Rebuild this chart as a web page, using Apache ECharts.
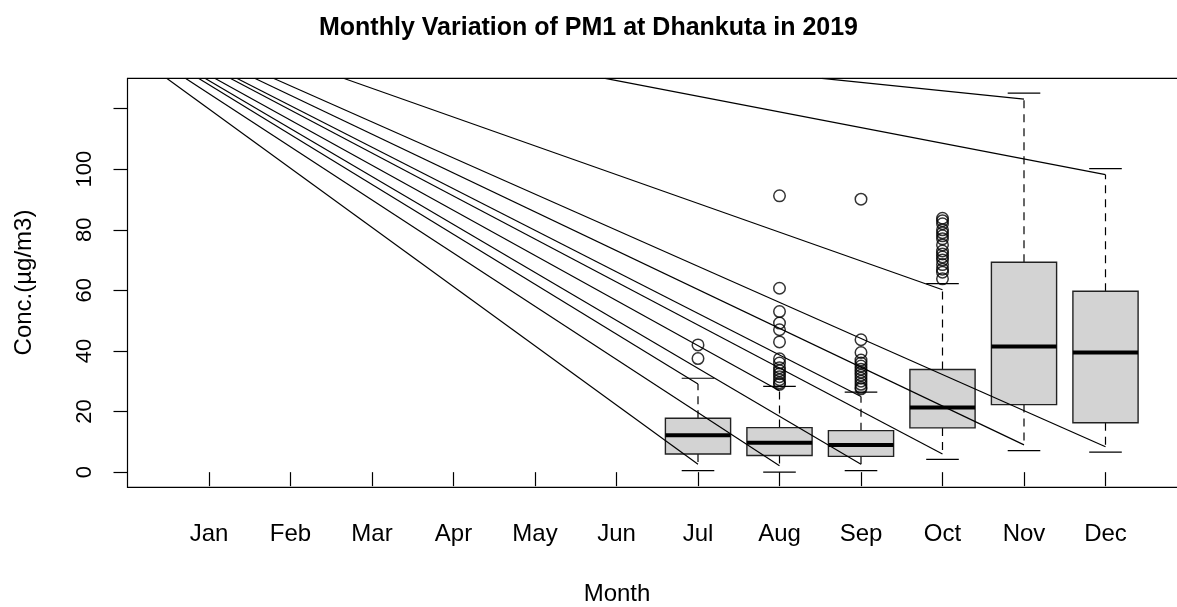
<!DOCTYPE html>
<html lang="en">
<head>
    <meta charset="UTF-8">
    <title>Monthly Variation of PM1 at Dhankuta in 2019</title>
    <script src="https://cdn.jsdelivr.net/npm/echarts@6.0.0/dist/echarts.min.js"></script>
    <style>
        html, body { margin: 0; padding: 0; background: #fff; }
        #chart { width: 1177px; height: 607px; }
    </style>
</head>
<body>
    <div id="chart"></div>

    <script>
        // month labels on the x axis (1 = Jan ... 12 = Dec)
        const months = ['Jan', 'Feb', 'Mar', 'Apr', 'May', 'Jun', 'Jul', 'Aug', 'Sep', 'Oct', 'Nov', 'Dec'];
        const yTicks = [0, 20, 40, 60, 80, 100, 120];
        const yLabels = [0, 20, 40, 60, 80, 100];

        // box statistics, only Jul..Dec have data
        const boxMonth = [7, 8, 9, 10, 11, 12];
        const whiskerLow = [0.5, 0.0, 0.5, 4.2, 7.1, 6.6];
        const q1 = [6.0, 5.5, 5.2, 14.6, 22.3, 16.3];
        const median = [12.2, 9.7, 9.0, 21.3, 41.5, 39.5];
        const q3 = [17.8, 14.7, 13.7, 33.9, 69.3, 59.7];
        const whiskerHigh = [31.0, 28.3, 26.4, 62.2, 125.1, 100.2];

        // where the dashed whiskers (and the stray lines) stop
        const whiskerEndLow = [2.6, 2.1, 2.6, 6.0, 9.0, 8.4];
        const whiskerEndHigh = [29.1, 26.9, 25.0, 60.2, 123.1, 98.2];

        // stray lines enter at the top of the plot at these x positions
        const strayStartLow = [0.48, 0.71, 0.95, 1.26, 1.56, 1.79];
        const strayStartHigh = [0.87, 1.07, 1.34, 2.65, 8.52, 5.86];

        // outliers per month
        const outJul = [42.0, 37.5];
        const outAug = [91.2, 60.7, 53.0, 49.2, 47.0, 43.0, 37.4, 36.0, 34.5, 33.5, 32.5, 31.5, 30.5, 29.5, 29.0];
        const outSep = [90.1, 43.7, 39.5, 37.0, 36.0, 35.0, 34.0, 33.0, 32.0, 31.0, 30.0, 29.0, 28.0, 27.5];
        const outOct = [83.8, 83.0, 82.0, 80.0, 79.0, 78.0, 77.0, 75.0, 73.0, 72.0, 71.0, 70.0, 68.5, 67.0, 66.0, 63.8];

        const Y_MIN = -5, Y_MAX = 130;
        const FONT = 'Liberation Sans, Arial, Helvetica, sans-serif';

        const boxData = boxMonth.map((m, i) => [m, whiskerLow[i], q1[i], median[i], q3[i], whiskerHigh[i], whiskerEndLow[i], whiskerEndHigh[i]]);

        const outlierData = [];
        [[7, outJul], [8, outAug], [9, outSep], [10, outOct]].forEach(([m, vals]) => {
            vals.forEach(v => outlierData.push([m, v]));
        });

        const strayData = [];
        boxMonth.forEach((m, i) => {
            strayData.push({ coords: [[strayStartLow[i], Y_MAX], [m, whiskerEndLow[i]]] });
            strayData.push({ coords: [[strayStartHigh[i], Y_MAX], [m, whiskerEndHigh[i]]] });
        });

        function renderBox(params, api) {
            const x = api.value(0);
            const w = api.size([0.8, 0])[0];
            const cw = api.size([0.4, 0])[0];
            const cx = api.coord([x, 0])[0];
            const y = v => api.coord([x, v])[1];
            const yLow = y(api.value(1)), yQ1 = y(api.value(2)), yMed = y(api.value(3));
            const yQ3 = y(api.value(4)), yHigh = y(api.value(5));
            const yEndLow = y(api.value(6)), yEndHigh = y(api.value(7));
            const dash = { stroke: '#000', lineWidth: 1.2, lineDash: [8, 6] };
            const solid = { stroke: '#000', lineWidth: 1.2 };
            return {
                type: 'group',
                children: [
                    { type: 'line', shape: { x1: cx, y1: yQ3, x2: cx, y2: yEndHigh }, style: dash },
                    { type: 'line', shape: { x1: cx, y1: yQ1, x2: cx, y2: yEndLow }, style: dash },
                    { type: 'line', shape: { x1: cx - cw / 2, y1: yHigh, x2: cx + cw / 2, y2: yHigh }, style: solid },
                    { type: 'line', shape: { x1: cx - cw / 2, y1: yLow, x2: cx + cw / 2, y2: yLow }, style: solid },
                    {
                        type: 'rect',
                        shape: { x: cx - w / 2, y: yQ3, width: w, height: yQ1 - yQ3 },
                        style: { fill: '#d3d3d3', stroke: '#222', lineWidth: 1.4 }
                    },
                    { type: 'line', shape: { x1: cx - w / 2, y1: yMed, x2: cx + w / 2, y2: yMed }, style: { stroke: '#000', lineWidth: 4 } }
                ]
            };
        }

        const chart = echarts.init(document.getElementById('chart'));
        chart.setOption({
            animation: false,
            title: {
                text: 'Monthly Variation of PM1 at Dhankuta in 2019',
                left: 'center',
                top: 11,
                textStyle: { fontFamily: FONT, fontSize: 25, fontWeight: 'bold', color: '#000' }
            },
            grid: {
                left: 127.5,
                top: 78.3,
                width: 1059.5,
                height: 409,
                outerBoundsMode: 'none',
                containLabel: false,
                show: true,
                borderColor: '#000',
                borderWidth: 1.2,
                backgroundColor: 'transparent'
            },
            xAxis: {
                type: 'value',
                min: 0,
                max: 13,
                axisLine: { show: false },
                splitLine: { show: false },
                axisTick: { show: true, length: 14, customValues: months.map((_, i) => i + 1), lineStyle: { color: '#000', width: 1.2 } },
                axisLabel: {
                    customValues: months.map((_, i) => i + 1),
                    formatter: v => months[v - 1],
                    margin: 35,
                    fontFamily: FONT,
                    fontSize: 24,
                    color: '#000'
                }
            },
            yAxis: {
                type: 'value',
                min: Y_MIN,
                max: Y_MAX,
                axisLine: { show: false },
                splitLine: { show: false },
                axisTick: { show: true, length: 14, customValues: yTicks, lineStyle: { color: '#000', width: 1.2 } },
                axisLabel: {
                    customValues: yLabels,
                    rotate: 90,
                    margin: 32,
                    fontFamily: FONT,
                    fontSize: 22,
                    color: '#000'
                }
            },
            graphic: [
                {
                    type: 'text', x: 617, y: 594,
                    style: { text: 'Month', align: 'center', verticalAlign: 'middle', font: '24px ' + FONT, fill: '#000' }
                },
                {
                    type: 'text', x: 24, y: 282.5, rotation: Math.PI / 2,
                    style: { text: 'Conc.(µg/m3)', align: 'center', verticalAlign: 'middle', font: '24px ' + FONT, fill: '#000' }
                }
            ],
            series: [
                {
                    type: 'custom',
                    name: 'box',
                    renderItem: renderBox,
                    encode: { x: 0, y: [1, 2, 3, 4, 5] },
                    data: boxData,
                    z: 2
                },
                {
                    type: 'scatter',
                    name: 'outliers',
                    symbol: 'circle',
                    symbolSize: 11.5,
                    itemStyle: { color: 'rgba(0,0,0,0)', borderColor: '#000', borderWidth: 1.5 },
                    data: outlierData,
                    z: 3
                },
                {
                    type: 'lines',
                    name: 'stray',
                    coordinateSystem: 'cartesian2d',
                    polyline: false,
                    lineStyle: { color: '#000', width: 1.2, opacity: 1 },
                    data: strayData,
                    z: 4
                }
            ]
        });
    </script>
</body>
</html>
